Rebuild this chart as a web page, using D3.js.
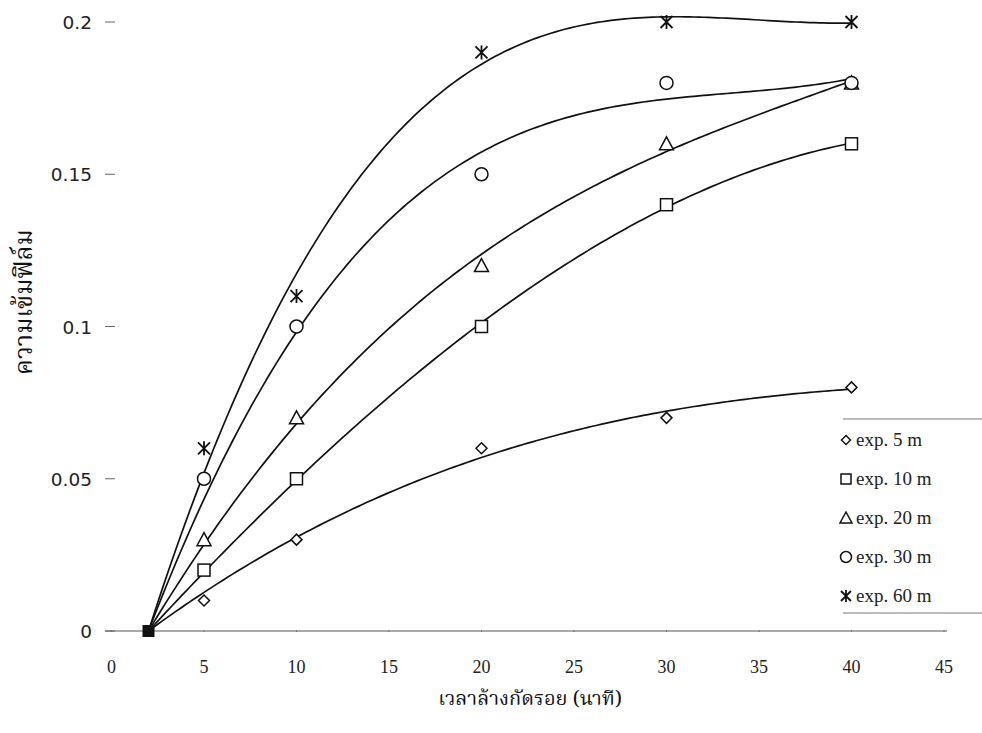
<!DOCTYPE html>
<html>
<head>
<meta charset="utf-8">
<script src="https://cdn.jsdelivr.net/npm/d3@7"></script>
<style>
  body { margin: 0; background: #fff; }
  svg { display: block; }
</style>
</head>
<body>
<svg id="svg" width="982" height="733"></svg>
<script>
// washing time (minutes)
var times = [2, 5, 10, 20, 30, 40];
var seriesNames = ["exp. 5 m", "exp. 10 m", "exp. 20 m", "exp. 30 m", "exp. 60 m"];
var exp5  = [0, 0.01, 0.03, 0.06, 0.07, 0.08];
var exp10 = [0, 0.02, 0.05, 0.10, 0.14, 0.16];
var exp20 = [0, 0.03, 0.07, 0.12, 0.16, 0.18];
var exp30 = [0, 0.05, 0.10, 0.15, 0.18, 0.18];
var exp60 = [0, 0.06, 0.11, 0.19, 0.20, 0.20];
var markerTypes = ["diamond", "square", "triangle", "circle", "asterisk"];
var xTicks = [0, 5, 10, 15, 20, 25, 30, 35, 40, 45];
var yTicks = [0, 0.05, 0.1, 0.15, 0.2];
var xTitle = "เวลาล้างกัดรอย (นาที)";
var yTitle = "ความเข้มฟิล์ม";

var allSeries = [exp5, exp10, exp20, exp30, exp60];

var svg = d3.select("#svg");
var x = d3.scaleLinear().domain([0, 45]).range([111.5, 944]);
var y = d3.scaleLinear().domain([0, 0.2]).range([631, 22]);
var thaiFont = "'Noto Serif Thai', 'Noto Sans Thai Looped', 'Garuda', 'Loma', 'Noto Sans Thai', sans-serif";

// cubic trend through the start point (least squares on t-2, (t-2)^2, (t-2)^3)
function trend(xs, ys) {
  var x0 = xs[0], n = 3;
  var A = [], b = [];
  for (var i = 0; i < n; i++) {
    A.push([]);
    for (var j = 0; j < n; j++) A[i].push(d3.sum(xs, v => Math.pow(v - x0, i + j + 2)));
    b.push(d3.sum(xs, (v, k) => ys[k] * Math.pow(v - x0, i + 1)));
  }
  for (var c = 0; c < n; c++) {
    for (var r = c + 1; r < n; r++) {
      var f = A[r][c] / A[c][c];
      for (var k = c; k < n; k++) A[r][k] -= f * A[c][k];
      b[r] -= f * b[c];
    }
  }
  var coef = [0, 0, 0];
  for (var i2 = n - 1; i2 >= 0; i2--) {
    var s = b[i2];
    for (var j2 = i2 + 1; j2 < n; j2++) s -= A[i2][j2] * coef[j2];
    coef[i2] = s / A[i2][i2];
  }
  return t => coef.reduce((acc, cc, e) => acc + cc * Math.pow(t - x0, e + 1), ys[0]);
}

// x axis line
svg.append("line")
  .attr("x1", 105).attr("x2", 947).attr("y1", y(0)).attr("y2", y(0))
  .attr("stroke", "#555").attr("stroke-width", 1);

xTicks.forEach(function(t) {
  svg.append("line").attr("x1", x(t)).attr("x2", x(t))
    .attr("y1", y(0) - 1).attr("y2", y(0) + 1).attr("stroke", "#777");
  svg.append("text").attr("x", x(t)).attr("y", 673)
    .attr("text-anchor", "middle")
    .style("font-family", "'Liberation Serif', serif").style("font-size", "18px")
    .attr("fill", "#222").text(t);
});

yTicks.forEach(function(t) {
  svg.append("text").attr("x", 92).attr("y", y(t) + 7)
    .attr("text-anchor", "end")
    .style("font-family", "'DejaVu Sans', sans-serif").style("font-size", "18.5px")
    .attr("fill", "#222").text(t);
  svg.append("line").attr("x1", 105).attr("x2", 115)
    .attr("y1", y(t)).attr("y2", y(t))
    .attr("stroke", "#666").attr("stroke-width", 1);
});

// axis titles
svg.append("text").attr("x", 530).attr("y", 705)
  .attr("text-anchor", "middle")
  .style("font-family", thaiFont)
  .style("font-size", "20px").attr("fill", "#111").text(xTitle);
svg.append("text")
  .attr("transform", "translate(32,302) rotate(-90)")
  .attr("text-anchor", "middle")
  .style("font-family", thaiFont)
  .style("font-size", "25px").attr("fill", "#111").text(yTitle);

// trend curves
var line = d3.line().x(d => x(d[0])).y(d => y(d[1]));
allSeries.forEach(function(vals) {
  var f = trend(times, vals);
  var pts = d3.range(2, 40.01, 0.25).map(t => [t, f(t)]);
  svg.append("path").datum(pts).attr("d", line)
    .attr("fill", "none").attr("stroke", "#111").attr("stroke-width", 1.7);
});

function drawMarker(g, type, cx, cy, s) {
  var st = { fill: "#fff", stroke: "#111", "stroke-width": 1.5 };
  var el, h = s / 2;
  if (type === "diamond") {
    h = s / 2 - 0.5;
    el = g.append("path").attr("d", `M${cx},${cy - h}L${cx + h},${cy}L${cx},${cy + h}L${cx - h},${cy}Z`);
  } else if (type === "square") {
    el = g.append("rect").attr("x", cx - h).attr("y", cy - h)
      .attr("width", s).attr("height", s);
  } else if (type === "triangle") {
    el = g.append("path").attr("d", `M${cx},${cy - h - 1}L${cx + h + 1},${cy + h}L${cx - h - 1},${cy + h}Z`);
  } else if (type === "circle") {
    el = g.append("circle").attr("cx", cx).attr("cy", cy).attr("r", h + 0.5);
  } else {
    el = g.append("path").attr("d",
      `M${cx - h},${cy - h}L${cx + h},${cy + h}M${cx + h},${cy - h}L${cx - h},${cy + h}M${cx},${cy - h - 1}L${cx},${cy + h + 1}`);
    st.fill = "none";
    st["stroke-width"] = 1.8;
  }
  Object.keys(st).forEach(k => el.attr(k, st[k]));
}

var mg = svg.append("g");
allSeries.forEach(function(vals, si) {
  vals.forEach(function(v, i) {
    if (times[i] === 2) return;
    drawMarker(mg, markerTypes[si], x(times[i]), y(v), 12);
  });
});
// shared start point
mg.append("rect").attr("x", x(times[0]) - 6).attr("y", y(0) - 6)
  .attr("width", 12).attr("height", 12).attr("fill", "#111");

// legend
var lg = svg.append("g");
lg.append("line").attr("x1", 843).attr("x2", 982).attr("y1", 419).attr("y2", 419)
  .attr("stroke", "#777");
lg.append("line").attr("x1", 843).attr("x2", 982).attr("y1", 613).attr("y2", 613)
  .attr("stroke", "#777");
seriesNames.forEach(function(name, i) {
  var cy = 440 + i * 39;
  drawMarker(lg, markerTypes[i], 846, cy, 10);
  lg.append("text").attr("x", 856).attr("y", cy + 6)
    .style("font-family", "'Liberation Serif', serif").style("font-size", "19px")
    .attr("fill", "#222").text(name);
});
</script>
</body>
</html>
